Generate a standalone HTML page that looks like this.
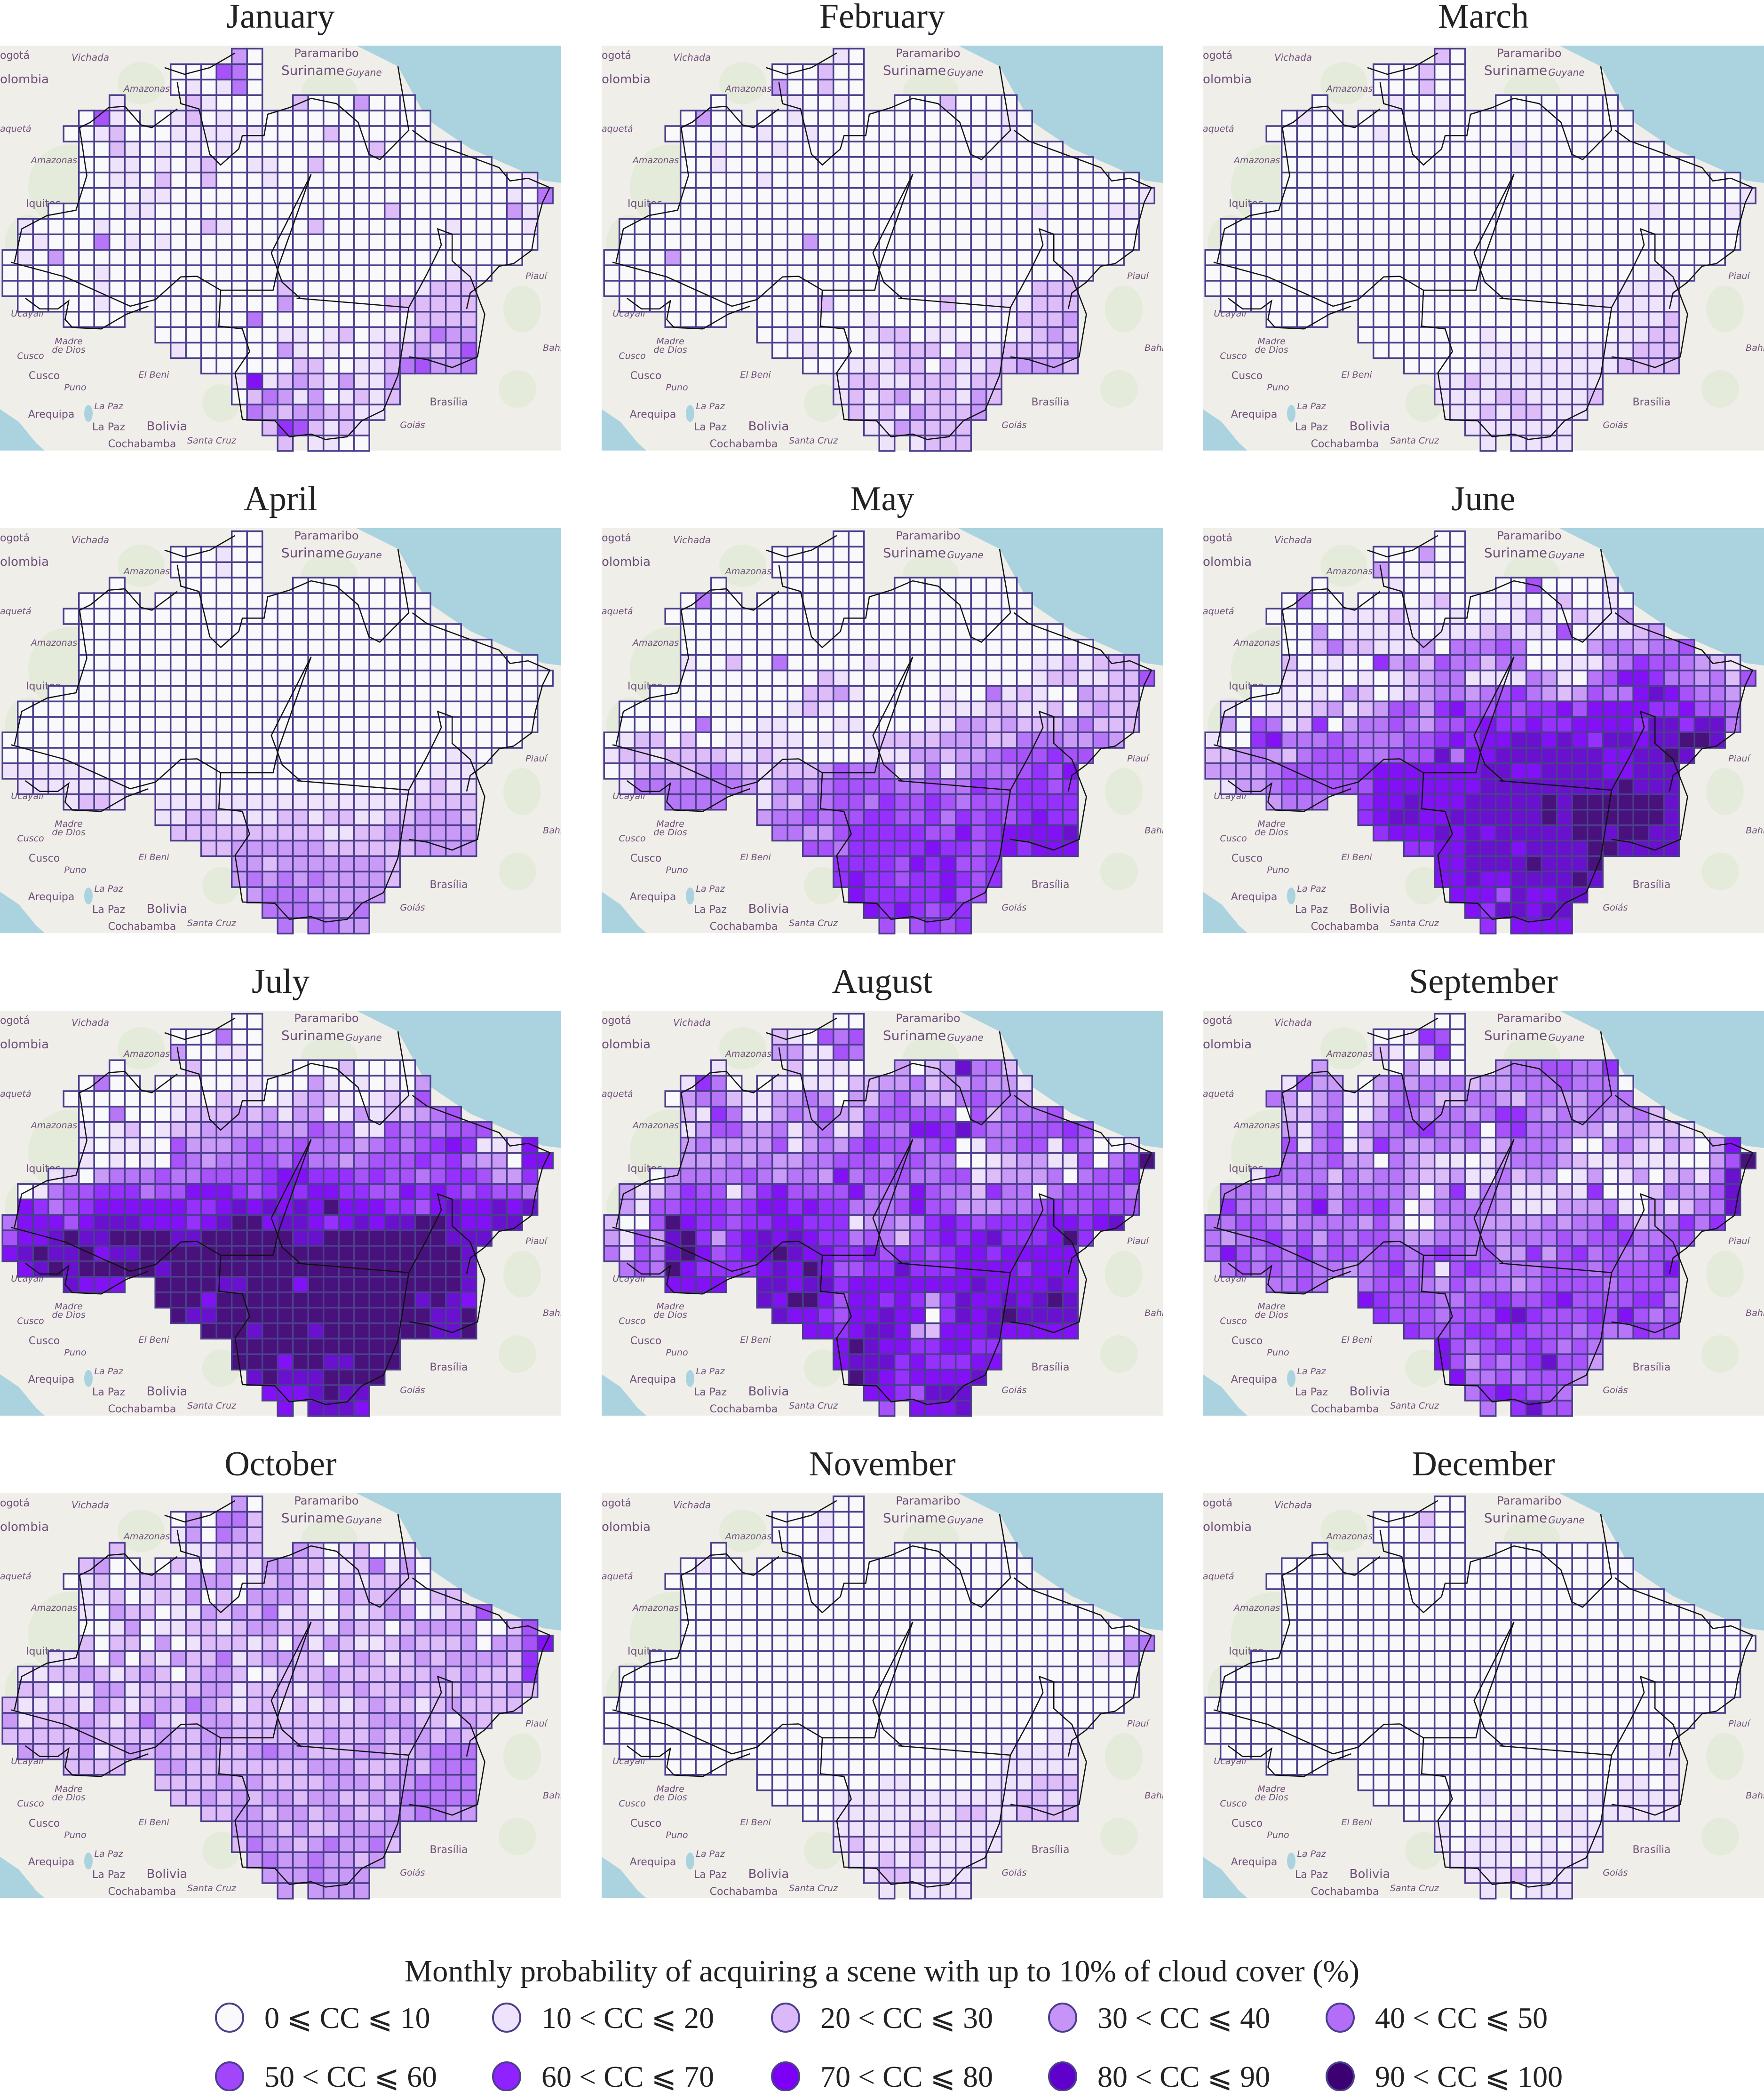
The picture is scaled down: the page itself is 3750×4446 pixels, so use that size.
<!DOCTYPE html>
<html><head><meta charset="utf-8">
<style>
html,body{margin:0;padding:0;background:#fff;}
svg{display:block;}
</style></head>
<body>
<svg id="fig" xmlns="http://www.w3.org/2000/svg" width="3750" height="4446" viewBox="0 0 3750 4446">
<rect width="3750" height="4446" fill="#ffffff"/>
<g id="panels"></g>
<g id="legend">
<text x="860" y="4213" font-family="Liberation Serif, serif" font-size="66" fill="#222" textLength="2030" lengthAdjust="spacingAndGlyphs">Monthly probability of acquiring a scene with up to 10% of cloud cover (%)</text>
</g>
</svg>
<script>
const months=["January","February","March","April","May","June","July","August","September","October","November","December"];
const classLabels=["0 ⩽ CC ⩽ 10","10 < CC ⩽ 20","20 < CC ⩽ 30","30 < CC ⩽ 40","40 < CC ⩽ 50","50 < CC ⩽ 60","60 < CC ⩽ 70","70 < CC ⩽ 80","80 < CC ⩽ 90","90 < CC ⩽ 100"];
const jan=["30","000540","010140","12100020003000","0510012010000000000000","001200011111100002000000","0021010101000000000200000","001101012001100200000000000","001102002000100000000000000001","0000110000000000000000000000104","00000110000000000000002000000031","1000010000002100000200000000100001","0100040101000000000000000000000000","0103000000000000000000000000000000","00000010000000000000000000000110","0000001000000000002000000001222","000001000000000003000000222222","0000000000400000000002222","000000001101201112433","10000003101001223235","000000220011245334","17123213113","02431301212","432332211","2652121","21100"];
const feb=["10","000200","300200","01001000020000","0300001000000000000010","000000100100000000000010","0010001000000000000000000","001000000000000000000000000","000001000000000000010000000000","0000000000000000000000000000001","00000000000000000000000001000011","0000000000000000000000000000000000","0000000000003000000000000000000000","0000300000000000000000000000000000","00000000000000000000000000000010","0000000000000000000000000000222","000000000000020000000200111222","0000000000010000000002223","001000012201100001232","00100001222021122223","000111220211223332","12211222122","12123122132","212132223","1132222","11222"];
const mar=["20","000200","000200","01001000000000","0100000000000000000000","000000010000000000000000","0000000000000001000000000","000000000000000000000000000","000000000000000000000000000000","0000000000000000000000000000001","00000000000000000000000000100001","0000000000000000000000000000000000","0000000000000000000000000000000000","0000000000000000000000000000000000","00000000000000000000000000000110","0000000000000000000000000001111","000000000000000000000000111111","0000000000000000000001112","000000001000000001122","00000001111011111222","000001111111112222","11211111111","11112211112","112122111","1111111","11111"];
const apr=["00","000100","000100","00000000000000","0000000000000000000000","000000000000000000000000","0000000000000000000000000","000000000000000000000000000","000000000000000000000000000000","0000000000000000000000000000000","00000000000000000000000000000000","0000000000000000000000000000000000","0000000000000000000000000000000000","0000000000000000000000000000000000","00000000000000000000000000000110","1111110000000000000000000000111","111111100000000000000000011211","1221111111111111111112222","112211112212211223332","22222222221122333333","223333332222223333","33233333332","34343433332","344433333","4444334","44433"];
const may=["00","000000","000000","00000000000000","0400000000000000000000","000000000000000000000000","0000000000000000000000000","000000000000000000000000000","100200400000100000000001121222","0000000002100000000000012211225","00000000002231000001004121003222","0000000000012100000001112211202322","0000040001100011000011332322234222","0122020011111010012222333224443343","12212222112110000111332334555655","0123223432122235444124134445657","144444443134345555445446556656","4444132445546556545556666","344545566556465656766","44335666665575677778","554666667665676777","66665767556","67665667656","766666755","7676566","55656"];
const jun=["00","000300","300100","01000000500001","0400000012000110020010","000001112100101013102113","0030111110111231115011123","002422111304445400003443445","2001006342544244001113465543215","1110010123441111431045776443425","00101032012344345643235447875443","1001112312355367556566757777667554","3054126034454355676676677776886884","1006744454444556767788787688788998","22343245554455584778888888778898","3333455555677777778877888877888","133455555577777778888888889888","3444677877788888989999998","678877888888989999998","67778787888889989988","667788878888998888","77888898889","77877888898","777587788","7688788","67777"];
const jul=["00","000400","300110","02000000020000","0400000001100031010103","000000011021101232101215","0040001222323133013122345","101201223333433544115454555","101110533345445444345456761117","1010105434455464434555656433077","12034445445555677666565545665336","0145566645577765676776655767656554","7645677777766787878797776657877878","4777578887776789978876787889987788","57789889999889999998899999999888","7898897889999999999999999999998","789899999899999999999999999998","8777999988999799999999998","999799999999999998987","98899999999999999889","999899989999999889","99999999999","99979988999","898889999","7778988","78887"];
const aug=["00","210545","331154","12011030238442","1640010110223342334331","034421133430324533245443","2164113435324555550524445","135533413412544776854455565","343333513435655456014455154001","3334343344555455440012331150459","03444454344374555445512333404556","3124655146755557444754426440455554","3155666567767664445755333445655655","2005976656677666134346765666677678","31538963678787664542567678666796","4154897567898776675665677677777","454976666787975566866677776777","7777887886777777778777787","879975776763687787898","87765778770687898888","776788732777877777","79877667766","78886766677","987677778","7765888","57778"];
const sep=["00","001650","210360","30311034455446","1533034344423344454440","431341124542244324433444","2234013543443466434343342","314503445644505644433133221","514512643343413444300342132037","4445330432110134443211211100359","15444243443223114233013013023148","4443345344443036143111216000243358","6444357355640244443111333410312448","4455434444353003443333434464234646","43456453545543344443444545564455","4754546455455456545336356454455","454545443456451565444555455557","4454455543544434555545555","765554456655675555664","65554555786555657545","655566565554544655","75456565454","75354568553","744545553","4676554","46855"];
const oct=["30","030442","130432","21122232012001","2300021032133221124130","012012203330123220212220","1120121302033320132231022","103220113232412102123301225","001301122123322213220233330025","2022030122212031321123222303357","11203021322412332202321232333326","1122321232023320122232222223232226","2201133122223312221232322322232232","2112213212324321221212123221232222","31222321242123322222222233322132","2222232222322332222223223233232","322231232322322343322233223444","2222332222222233322232444","222232322223332334444","22323233233223244444","223323323322334433","33323223333","24332343342","343343323","3334333","33333"];
const nov=["00","000100","000100","00000000000000","0100000000000000000000","000000000000000000000000","0000000000000000000000000","000000000000000000000000000","000000000000000000000000000000","0000000000000000000000000000034","00000000000000000000000000000113","0000000000000000000000000000000000","0000000000000000000000000000000000","0000000000000000000000000000000000","00000000000000000000000000000000","0000000000000000000000000000011","000000000000000000000000011111","0000000000000000000011111","000000001100000111222","00001111111111112212","001111111122112222","11111221111","12111211111","112121111","1221111","11111"];
const dec=["00","000200","000100","00000000000000","0000000000000000000000","000000000000000000000000","0000000000000000000000000","000000000000000000000000000","000000000000000000000000000000","0000000000000000000000000000000","00000000000000000000000000000000","0000000000000000000000000000000000","0000000000000000000000000000000000","0000000000000000000000000000000000","00000000000000000000000000000000","0000000000000000000000000000000","000000000000000000000000000011","0000000000000000000000001","000000000000000001101","00000001000000101111","000000010011011111","10011010111","10111101011","111101111","1112111","10111"];
const monthGrids=[jan,feb,mar,apr,may,jun,jul,aug,sep,oct,nov,dec];

const palette=["#fafafd","#efe2fc","#dbb8f8","#c694f7","#b36df8","#a246fb","#8f22fe","#7b00f5","#5f00cc","#3c0073"];
const MASK=[[[15,16]],[[11,16]],[[11,16]],[[7,7],[12,16],[19,26]],[[5,8],[10,27]],[[4,27]],[[5,29]],[[5,31]],[[5,34]],[[5,35]],[[3,34]],[[1,34]],[[1,34]],[[0,33]],[[0,31]],[[0,30]],[[1,30]],[[4,7],[10,30]],[[10,30]],[[11,30]],[[13,30]],[[15,25]],[[15,25]],[[16,24]],[[17,23]],[[18,18],[20,23]]];
const NS="http://www.w3.org/2000/svg";
const colX=[0,1279,2557], rowY=[97,1123,2149,3175];
const PW=1193, PH=861, CW=32.5, CH=32.9, GX=5.2, GY=6.5;
function cellX(j){return GX+j*CW;}
function cellY(i){return GY+i*CH;}
function mk(tag,attrs){const e=document.createElementNS(NS,tag);for(const k in attrs)e.setAttribute(k,attrs[k]);return e;}
// map labels: text, x, y (panel-local px), size, anchor, italic
const labels=[["Paramaribo",694,24,24,"middle",0],["Suriname",665,62,28,"middle",0],["Guyane",773,64,20,"middle",1],["olombia",0,80,26,"start",0],["ogotá",0,28,22,"start",0],["Vichada",192,32,20,"middle",1],["Amazonas",312,98,19,"middle",1],["Amazonas",115,250,19,"middle",1],["aquetá",0,183,19,"start",1],["Iquitos",55,343,22,"start",0],["Ucayali",58,576,19,"middle",1],["Madre",146,635,19,"middle",1],["de Dios",146,653,19,"middle",1],["Cusco",65,666,19,"middle",1],["Cusco",94,709,22,"middle",0],["Puno",160,733,19,"middle",1],["La Paz",231,773,19,"middle",1],["Arequipa",109,791,22,"middle",0],["La Paz",231,818,22,"middle",0],["Bolivia",355,818,26,"middle",0],["Cochabamba",302,854,22,"middle",0],["Santa Cruz",450,846,19,"middle",1],["El Beni",327,706,19,"middle",1],["Brasília",954,765,22,"middle",0],["Goiás",877,813,19,"middle",1],["Piauí",1140,496,19,"middle",1],["Bahia",1181,649,19,"middle",1]];
const lines=[
"30,825 180,880 360,990 430,965 500,880 545,878 610,930 755,930 770,840 860,495",
"610,930 605,1065 670,1075 690,1160 650,1240 670,1415 760,1420 800,1480 860,1470 900,1490 960,1480 1000,1420 1060,1380 1100,1250 1130,995",
"820,960 1130,995",
"860,495 750,790 780,900 830,960",
"1130,995 1180,870 1220,760 1210,700 1250,720 1250,820 1300,880 1340,1020 1320,1180 1250,1220 1180,1190 1130,1180",
"455,95 510,120 580,95 650,40 ",
"490,150 500,230 550,250 580,420 610,460 660,400 670,350 730,350 740,270 800,245 860,210 930,230 990,300 1020,420 1050,440 1130,330 1100,90",
"1140,330 1180,370 1240,400 1380,470 1410,520 1460,510 1520,545 1500,600 1480,700 1470,780 1420,830 1380,840 1340,900 1300,940 1290,1000",
"40,825 60,700 130,650 210,630 240,500 220,320 250,300 300,245 345,240 390,310 420,320 490,250",
"70,960 110,1000 160,1000 190,970 180,1040 200,1070 280,1075 350,1020 410,990"];
const panels=document.getElementById('panels');
months.forEach((m,mi)=>{
  const px=colX[mi%3], py=rowY[Math.floor(mi/3)];
  const g=mk('g',{transform:`translate(${px},${py})`});
  
  
  const t=mk('text',{x:PW/2,y:-38,'text-anchor':'middle','font-family':'Liberation Serif, serif','font-size':74,fill:'#222'});
  t.textContent=m;
  
  
  g.appendChild(t);
  const clip='clip'+mi;
  const cp=mk('clipPath',{id:clip});cp.appendChild(mk('rect',{x:0,y:0,width:PW,height:PH}));g.appendChild(cp);
  const base=mk('g',{'clip-path':`url(#${clip})`});
  
  
  base.appendChild(mk('rect',{x:0,y:0,width:PW,height:PH,fill:'#f0eee9'}));
  [[300,80,50,45],[700,100,60,45],[150,300,90,90],[60,420,50,60],[470,760,40,40],[1110,560,40,50],[1100,730,40,40],[250,200,60,40]].forEach(e=>{base.appendChild(mk('ellipse',{cx:e[0],cy:e[1],rx:e[2],ry:e[3],fill:'#dfe9d4',opacity:0.7}));});
  const sea=mk('path',{d:'M758,0 L1193,0 L1193,292 L1154,287 L1092,259 L1000,219 L908,157 L846,44 Z',fill:'#aad3df'});
  base.appendChild(sea);
  const pac=mk('path',{d:'M0,773 L40,800 L77,845 L95,861 L0,861 Z',fill:'#aad3df'});
  base.appendChild(pac);
  base.appendChild(mk('ellipse',{cx:188,cy:782,rx:9,ry:18,fill:'#aad3df'}));
  labels.forEach(l=>{const tx=mk('text',{x:l[1],y:l[2],'text-anchor':l[4],'font-family':'DejaVu Sans, sans-serif','font-size':l[3],fill:'#6d4f78','font-style':l[5]?'italic':'normal'});tx.textContent=l[0];
    base.appendChild(tx);});
  g.appendChild(base);
  const grid=monthGrids[mi];
  const cells=mk('g',{stroke:'#4b3f8c','stroke-width':3.5});
  
  MASK.forEach((segs,i)=>{
    const s=grid[i]||'';let k=0;
    segs.forEach(sg=>{for(let j=sg[0];j<=sg[1];j++){
      const v=parseInt(s[k]||'0',10)||0;k++;
      const r=mk('rect',{x:cellX(j),y:cellY(i),width:CW,height:CH,fill:palette[v],'fill-opacity':0.93});
      
      
      cells.appendChild(r);
    }});
  });
  g.appendChild(cells);
  const bl=mk('g',{transform:'translate(0,-7) scale(0.769,0.5667)',fill:'none',stroke:'#111','stroke-width':2.5});
  
  lines.forEach(p=>{const pl=mk('polyline',{points:p,'vector-effect':'non-scaling-stroke'});bl.appendChild(pl);});
  g.appendChild(bl);
  panels.appendChild(g);
});
const legend=document.getElementById('legend');
const lx=[488,1077,1670,2259,2849], ly=[4290,4415];
classLabels.forEach((lab,c)=>{
  const x=lx[c%5], y=ly[Math.floor(c/5)];
  const gi=mk('g',{});
  
  
  const ci=mk('ellipse',{cx:x,cy:y,rx:29,ry:30,fill:palette[c],stroke:'#4b3f8c','stroke-width':4});
  
  
  gi.appendChild(ci);
  const tx=mk('text',{x:x+74,y:y+22,'font-family':'Liberation Serif, DejaVu Serif, serif','font-size':64,fill:'#222'});
  tx.textContent=lab;
  
  
  gi.appendChild(tx);
  legend.appendChild(gi);
});
</script>
</body></html>
